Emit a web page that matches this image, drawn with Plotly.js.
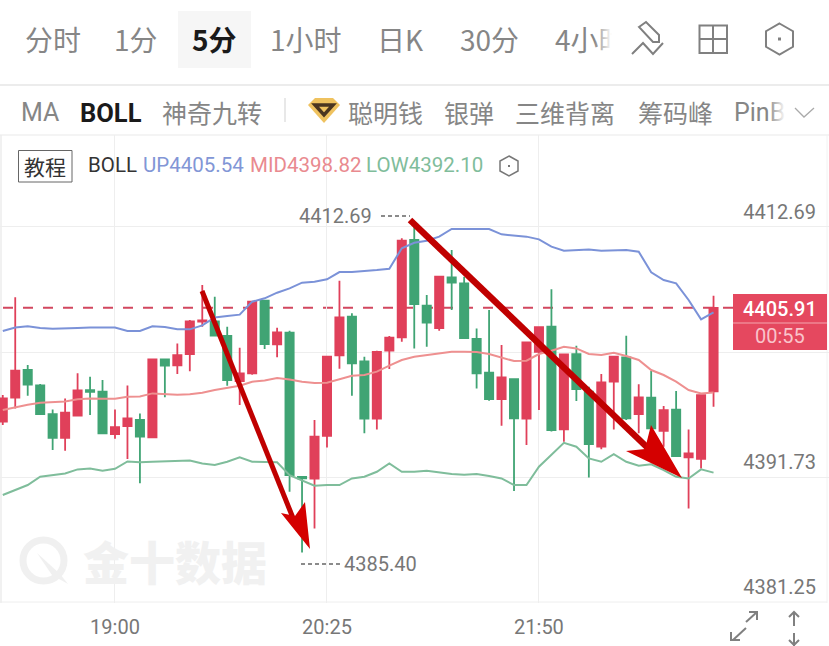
<!DOCTYPE html>
<html><head><meta charset="utf-8">
<script src="https://cdn.plot.ly/plotly-3.0.1.min.js"></script>
<style>html,body{margin:0;padding:0;background:#fff;width:829px;height:646px;overflow:hidden}
#c{position:absolute;left:0;top:0;width:829px;height:646px}
.f{position:absolute;pointer-events:none}</style></head>
<body><div id="c"></div>
<div class="f" style="left:594px;top:15px;width:36px;height:50px;background:linear-gradient(to right,rgba(255,255,255,0),#fff 50%)"></div>
<div class="f" style="left:768px;top:95px;width:22px;height:36px;background:linear-gradient(to right,rgba(255,255,255,0),#fff 80%)"></div>
<script>
const times=["18:15","18:20","18:25","18:30","18:35","18:40","18:45","18:50","18:55","19:00","19:05","19:10","19:15","19:20","19:25","19:30","19:35","19:40","19:45","19:50","19:55","20:00","20:05","20:10","20:15","20:20","20:25","20:30","20:35","20:40","20:45","20:50","20:55","21:00","21:05","21:10","21:15","21:20","21:25","21:30","21:35","21:40","21:45","21:50","21:55","22:00","22:05","22:10","22:15","22:20","22:25","22:30","22:35","22:40","22:45","22:50","22:55","23:00"];
const opens=[4396.37,4398.38,4400.70,4399.41,4397.01,4395.02,4396.87,4399.02,4398.88,4395.33,4396.00,4396.51,4395.05,4401.59,4401.09,4402.04,4404.75,4404.78,4403.55,4399.77,4400.42,4406.51,4402.85,4403.83,4391.75,4391.59,4395.19,4401.93,4405.17,4401.42,4396.62,4402.32,4403.44,4411.60,4406.09,4404.22,4408.47,4407.96,4403.30,4400.47,4398.27,4399.94,4396.62,4402.23,4404.33,4395.72,4402.04,4398.88,4394.27,4399.72,4401.76,4397.01,4398.38,4395.61,4397.37,4393.38,4393.26,4398.91];
const highs=[4398.60,4406.79,4401.12,4399.52,4397.40,4398.32,4400.42,4400.14,4399.86,4397.40,4399.41,4397.06,4401.62,4401.62,4402.93,4404.89,4407.82,4406.85,4404.33,4402.57,4406.48,4406.57,4404.25,4403.99,4391.81,4396.51,4401.81,4408.19,4405.45,4401.81,4402.32,4403.55,4411.74,4412.69,4406.99,4408.58,4410.76,4408.52,4404.19,4405.73,4402.79,4399.94,4403.02,4404.33,4407.46,4402.04,4402.74,4399.30,4400.36,4401.81,4403.58,4399.50,4400.61,4397.68,4398.94,4395.72,4398.66,4406.93];
const lows=[4396.09,4397.48,4398.55,4397.01,4393.99,4393.93,4396.87,4396.92,4395.39,4394.94,4393.24,4391.20,4395.05,4398.41,4400.36,4400.59,4404.33,4403.58,4399.38,4397.76,4400.31,4402.46,4401.76,4390.50,4385.40,4387.42,4394.21,4400.81,4398.55,4395.39,4395.72,4400.78,4403.07,4402.51,4402.65,4403.99,4405.73,4403.32,4399.16,4398.13,4396.03,4390.55,4394.41,4397.34,4395.55,4394.69,4398.10,4391.70,4394.05,4395.72,4396.51,4395.39,4395.67,4394.27,4393.43,4389.10,4392.45,4397.62];
const closes=[4398.32,4400.64,4399.47,4397.01,4395.02,4397.12,4398.99,4398.88,4395.39,4395.92,4396.64,4395.11,4401.59,4401.06,4401.95,4404.78,4404.86,4403.58,4399.86,4400.42,4406.43,4402.88,4403.86,4391.89,4391.61,4395.11,4401.81,4405.11,4401.26,4396.62,4402.21,4403.41,4411.54,4406.23,4404.67,4408.52,4408.02,4403.38,4400.42,4398.27,4400.08,4396.64,4403.02,4404.30,4395.67,4402.01,4399.10,4394.49,4399.66,4401.81,4396.64,4398.41,4395.81,4397.34,4393.49,4393.71,4398.60,4405.91];
const bollUp=[4403.97,4404.27,4404.36,4404.22,4404.16,4404.16,4404.22,4404.27,4404.30,4404.27,4403.97,4403.97,4404.36,4404.30,4404.11,4404.11,4404.44,4405.11,4405.22,4405.34,4406.43,4406.71,4407.18,4407.54,4408.02,4408.10,4408.30,4408.91,4408.91,4408.97,4409.08,4409.19,4410.90,4411.37,4411.54,4411.88,4412.52,4412.52,4412.52,4412.52,4412.07,4411.96,4411.88,4411.65,4411.04,4410.70,4410.76,4410.81,4410.70,4410.76,4410.76,4410.62,4408.89,4408.24,4407.96,4406.57,4404.95,4405.54];
const bollMid=[4397.34,4397.57,4397.79,4397.96,4398.01,4398.07,4398.24,4398.32,4398.29,4398.29,4398.46,4398.49,4398.74,4398.66,4398.63,4398.66,4398.80,4399.02,4399.22,4399.38,4399.72,4399.83,4400.03,4399.91,4399.72,4399.61,4399.64,4399.91,4400.22,4400.28,4400.56,4401.06,4401.54,4401.81,4401.95,4402.09,4402.23,4402.23,4402.21,4402.04,4401.73,4401.45,4401.48,4402.04,4402.32,4402.65,4402.51,4402.04,4401.95,4402.15,4401.87,4401.54,4400.70,4400.28,4399.72,4399.02,4398.74,4398.82];
const bollLow=[4390.22,4390.64,4391.06,4391.75,4391.89,4392.03,4392.37,4392.45,4392.26,4392.42,4393.04,4392.96,4393.01,4393.04,4393.12,4393.12,4392.87,4392.73,4393.01,4393.38,4393.01,4392.96,4392.96,4391.89,4391.47,4391.00,4391.06,4391.06,4391.61,4391.75,4392.17,4392.87,4392.17,4392.17,4392.26,4392.09,4391.98,4391.92,4391.98,4391.81,4391.61,4391.06,4391.06,4392.59,4393.57,4394.60,4394.27,4393.29,4393.01,4393.65,4393.01,4392.68,4392.79,4392.31,4391.75,4391.61,4392.37,4392.10];
const xTicks=["19:00","20:25","21:50"];
const yGrid=[4412.69,4402.21,4391.73,4381.25];
const yLabels=["4412.69","","4391.73","4381.25"];
const lastPrice=4405.91;

const W=829,H=646,T=135,B=603,PH=B-T;
const px=x=>x/W, py=y=>(B-y)/PH;
const CJK='"Noto Sans CJK SC","Noto Sans",sans-serif', NUM='Roboto,"Noto Sans",sans-serif';
const GR='#868686';

function txt(text,x,y,size,color,o={}){return Object.assign({text,x:px(x),y:py(y),xref:'paper',yref:'paper',xanchor:o.anchor||'center',yanchor:'middle',showarrow:false,
  font:{size,color,family:o.family||CJK,weight:o.weight||400}});}
function poly(pts,o={}){const d=pts.map((p,i)=>(i?'L':'M')+px(p[0]).toFixed(5)+' '+py(p[1]).toFixed(5)).join(' ')+(o.close?' Z':'');
  return {type:'path',path:d,xref:'paper',yref:'paper',layer:o.layer||'above',fillcolor:o.fill||'rgba(0,0,0,0)',line:{color:o.color||'rgba(0,0,0,0)',width:o.width===undefined?0:o.width,dash:o.dash||'solid'}};}
function rect(x0,y0,x1,y1,fill,o={}){return {type:'rect',x0:px(x0),x1:px(x1),y0:py(y1),y1:py(y0),xref:'paper',yref:'paper',layer:o.layer||'above',fillcolor:fill,line:{width:o.lw||0,color:o.lc||fill}};}
function hex(cx,cy,w,h,color,lw){return poly([[cx,cy-h],[cx+w,cy-h/2],[cx+w,cy+h/2],[cx,cy+h],[cx-w,cy+h/2],[cx-w,cy-h/2]],{close:true,color,width:lw});}

const annotations=[
 txt('分时',53,39,28,GR), txt('1分',136,39,28,GR), txt('5分',214,39,28,'#1a1a1a',{weight:700}),
 txt('1小时',306,39,28,GR), txt('日K',400,39,28,GR), txt('30分',489,39,28,GR), txt('4小时',591,39,28,GR),
 txt('MA',40,113,25,GR,{family:NUM}), txt('BOLL',111,113,25.5,'#1a1a1a',{family:NUM,weight:700}), txt('神奇九转',212,112,25,GR),
 txt('聪明钱',385,112,25,GR), txt('银弹',469,112,25,GR), txt('三维背离',565,112,25,GR), txt('筹码峰',675,112,25,GR),
 txt('PinB',732,113,25,GR,{family:NUM,anchor:'left'}),
 txt('教程',45,166,21,'#333'),
 txt('BOLL',86,165,20.5,'#333',{family:NUM,anchor:'left'}),
 txt('UP4405.54',141,165,20.5,'#8296d6',{family:NUM,anchor:'left'}),
 txt('MID4398.82',248,165,20.5,'#e98a8f',{family:NUM,anchor:'left'}),
 txt('LOW4392.10',364,165,20.5,'#7fbd9b',{family:NUM,anchor:'left'}),
 txt('金十数据',175,560,46,'#f1f1f1',{weight:900}),
 txt('4412.69',335,216,20,'#777',{family:NUM}),
 txt('4385.40',380,564,20,'#777',{family:NUM}),
 txt(String(lastPrice),780,309,20,'#ffffff',{family:NUM,weight:500}),
 txt('00:55',780,336,20,'#f9c4cb',{family:NUM}),
];

const shapes=[
 rect(178,11,251,68,'#f6f6f6',{layer:'below'}),
 poly([[0,85],[829,85]],{color:'#ececec',width:2,layer:'below'}),
 poly([[0,135],[829,135]],{color:'#f0f0f0',width:1.5,layer:'below'}),
 poly([[285,98],[285,122]],{color:'#e8e8e8',width:2}),
 poly([[1,135],[1,603]],{color:'#ececec',width:1.5,layer:'below'}),
 poly([[827,135],[827,603]],{color:'#f2f2f2',width:1,layer:'below'}),
 {type:'line',xref:'paper',yref:'y',x0:0,x1:px(827),y0:yGrid[3],y1:yGrid[3],layer:'below',line:{color:'#eeeeee',width:1}},
 // drawing-tool, layout and settings icons
 poly([[639,27],[646,22],[659,35],[659,42],[653,42]],{close:true,color:'#808080',width:2}),
 poly([[632,54],[643,43],[653,54],[663,43]],{color:'#808080',width:2}),
 rect(699.5,25.5,727,53,'rgba(0,0,0,0)',{lc:'#808080',lw:2}),
 poly([[713,25],[713,53]],{color:'#808080',width:2}), poly([[699,39],[727,39]],{color:'#808080',width:2}),
 hex(779.5,39,13.5,15.5,'#808080',2), rect(778,37.5,781,40.5,'#808080'),
 poly([[795,108],[804,117],[814,108]],{color:'#aaa',width:1.3}),
 // diamond badge
 poly([[308,105],[315,98],[333,98],[340,105],[324,123]],{close:true,fill:'#efc25f'}),
 poly([[315,105],[333,105],[324,115]],{close:true,color:'#4a3520',width:3.5}),
 // legend
 rect(18.5,150.5,72,182,'rgba(0,0,0,0)',{lc:'#666',lw:1}),
 hex(509,166,9,10,'#777',1.5), rect(508,165,510,167,'#777'),
 // watermark logo
 {type:'circle',xref:'paper',yref:'paper',x0:px(23),x1:px(64),y0:py(581),y1:py(540),line:{color:'#f0f0f0',width:7},layer:'below'},
 poly([[37,553],[60,574],[68,584],[52,575]],{close:true,fill:'#f0f0f0',layer:'below'}),
 // price line + tag
 {type:'line',xref:'paper',yref:'y',x0:px(3),x1:px(733),y0:lastPrice,y1:lastPrice,layer:'below',line:{color:'#d2475f',width:2,dash:'10px,10px'}},
 rect(733,294,827,350,'#e5485f'),
 poly([[733,323],[827,323]],{color:'#f4a6b0',width:1}),
 // high / low leaders
 poly([[381,216],[410,216]],{color:'#666',width:1.5,dash:'4px,3px'}),
 poly([[301,564],[340,564]],{color:'#666',width:1.5,dash:'4px,3px'}),
 // hand-drawn arrows
 poly([[202,291],[297,528]],{color:'#c00000',width:5}),
 poly([[310,549],[281,513],[295,516],[305,502]],{close:true,fill:'#d40000'}),
 poly([[410,220],[652,452]],{color:'#c00000',width:6.5}),
 poly([[682,478],[626,451],[645,449],[651,425]],{close:true,fill:'#d40000'}),
 // bottom icons
 poly([[733,640],[746,628]],{color:'#808080',width:2}), poly([[731,632],[731,640],[740,640]],{color:'#808080',width:2}),
 poly([[746,622],[757,612]],{color:'#808080',width:2}), poly([[749,612],[757,612],[757,620]],{color:'#808080',width:2}),
 poly([[794,612],[794,626]],{color:'#808080',width:2}), poly([[789,617],[794,612],[799,617]],{color:'#808080',width:2}),
 poly([[794,633],[794,646]],{color:'#808080',width:2}), poly([[789,640],[794,645],[799,640]],{color:'#808080',width:2}),
];

const traces=[
 {type:'candlestick',x:times,open:opens,high:highs,low:lows,close:closes,hoverinfo:'skip',whiskerwidth:0,
  increasing:{line:{color:'#e0405a',width:1.8},fillcolor:'#e0405a'},
  decreasing:{line:{color:'#40a474',width:1.8},fillcolor:'#40a474'}},
 {type:'scatter',mode:'lines',x:times,y:bollUp,line:{color:'#7b92d8',width:2},hoverinfo:'skip'},
 {type:'scatter',mode:'lines',x:times,y:bollMid,line:{color:'#ee9090',width:2},hoverinfo:'skip'},
 {type:'scatter',mode:'lines',x:times,y:bollLow,line:{color:'#7fbd9b',width:2},hoverinfo:'skip'},
];
const layout={width:W,height:H,margin:{l:0,r:0,t:T,b:H-B,pad:0},paper_bgcolor:'#fff',plot_bgcolor:'#fff',showlegend:false,boxgap:0.34,boxgroupgap:0,
 xaxis:{type:'category',categoryorder:'array',categoryarray:times,range:[-0.222,66.26],rangeslider:{visible:false},
  tickmode:'array',tickvals:xTicks,ticktext:xTicks,ticks:'',showgrid:true,gridcolor:'#eeeeee',gridwidth:1,zeroline:false,showline:false,
  tickfont:{family:NUM,size:20,color:'#777'},ticklabelstandoff:10},
 yaxis:{side:'right',range:[4381.17,4420.40],tickmode:'array',tickvals:yGrid,ticktext:yLabels,ticks:'',showgrid:true,gridcolor:'#eeeeee',gridwidth:1,zeroline:false,showline:false,
  ticklabelposition:'inside',ticklabelshift:-15,ticklabelstandoff:10,tickfont:{family:NUM,size:20,color:'#777'}},
 shapes,annotations,dragmode:false};
Plotly.newPlot('c',traces,layout,{staticPlot:true,displayModeBar:false});
</script></body></html>
